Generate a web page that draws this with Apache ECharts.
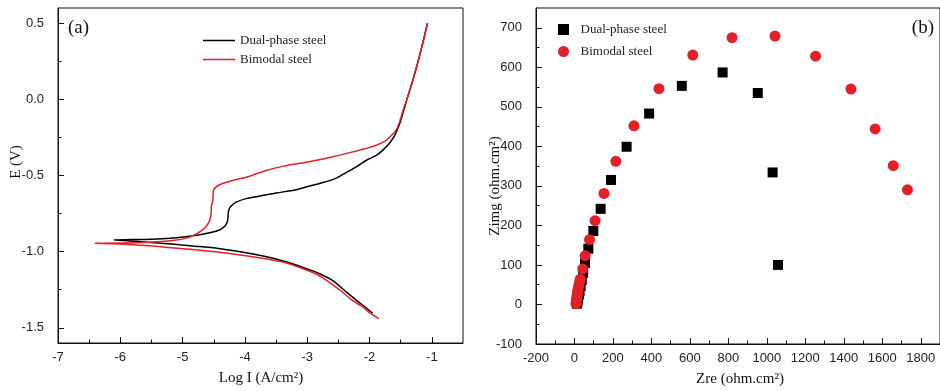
<!DOCTYPE html>
<html>
<head>
<meta charset="utf-8">
<script src="https://cdn.jsdelivr.net/npm/echarts@6/dist/echarts.min.js"></script>
<style>
  html, body { margin: 0; padding: 0; background: #fff; }
  #chart { width: 940px; height: 391px; }
</style>
</head>
<body>
<div id="chart"></div>
<script>
// ---- (a) Potentiodynamic polarization curves: [log I, E] ----
const dualPhasePolarization = [
  [-1.95,-1.405],[-2.05,-1.37],[-2.21,-1.32],[-2.40,-1.255],[-2.59,-1.19],[-2.80,-1.145],
  [-3.01,-1.112],[-3.25,-1.078],[-3.50,-1.048],[-3.75,-1.025],[-3.98,-1.007],[-4.25,-0.99],
  [-4.51,-0.975],[-4.80,-0.964],[-5.05,-0.955],[-5.30,-0.946],[-5.58,-0.938],[-5.85,-0.930],
  [-6.10,-0.923],
  [-5.80,-0.921],[-5.50,-0.918],[-5.20,-0.912],[-4.95,-0.902],[-4.75,-0.891],[-4.55,-0.875],
  [-4.41,-0.858],[-4.32,-0.832],[-4.28,-0.80],[-4.27,-0.765],[-4.26,-0.728],[-4.22,-0.700],
  [-4.14,-0.675],[-3.98,-0.652],[-3.75,-0.634],[-3.50,-0.615],[-3.20,-0.595],[-2.99,-0.572],
  [-2.80,-0.552],[-2.59,-0.527],[-2.37,-0.480],[-2.20,-0.440],[-2.05,-0.400],[-1.90,-0.370],
  [-1.79,-0.335],[-1.68,-0.288],[-1.60,-0.240],[-1.55,-0.195],[-1.50,-0.14],[-1.45,-0.07],
  [-1.40,0.0],[-1.31,0.12],[-1.22,0.25],[-1.14,0.38],[-1.07,0.50]
];
const bimodalPolarization = [
  [-1.85,-1.44],[-2.0,-1.40],[-2.12,-1.36],[-2.27,-1.322],[-2.45,-1.26],[-2.64,-1.203],
  [-2.82,-1.155],[-3.01,-1.121],[-3.20,-1.093],[-3.39,-1.068],[-3.80,-1.038],[-4.19,-1.015],
  [-4.60,-0.996],[-4.99,-0.981],[-5.40,-0.966],[-5.80,-0.955],[-6.10,-0.949],[-6.41,-0.945],
  [-6.00,-0.944],[-5.53,-0.938],[-5.16,-0.927],[-4.95,-0.913],[-4.83,-0.894],[-4.72,-0.868],
  [-4.63,-0.838],[-4.57,-0.800],[-4.55,-0.770],[-4.54,-0.735],[-4.54,-0.707],[-4.52,-0.670],
  [-4.51,-0.635],[-4.51,-0.605],[-4.47,-0.578],[-4.38,-0.556],[-4.19,-0.532],[-3.95,-0.508],
  [-3.66,-0.467],[-3.40,-0.440],[-3.12,-0.420],[-2.85,-0.400],[-2.59,-0.377],[-2.30,-0.348],
  [-2.05,-0.321],[-1.88,-0.300],[-1.75,-0.275],[-1.65,-0.237],[-1.57,-0.20],[-1.52,-0.15],
  [-1.46,-0.07],[-1.40,0.0],[-1.31,0.12],[-1.22,0.25],[-1.14,0.38],[-1.07,0.50]
];
const polXTicks = [-7, -6, -5, -4, -3, -2, -1];
const polXMinor = [-6.5, -5.5, -4.5, -3.5, -2.5, -1.5];
const polYTicks = [-1.5, -1.0, -0.5, 0.0, 0.5];
const polYMinor = [-1.25, -0.75, -0.25, 0.25];

// ---- (b) Nyquist plots: [Zre, Zimg] in ohm.cm² ----
const dualPhaseNyquist = [
  [12,2],[14,5],[16,10],[19,17],[23,25],[27,35],[32,47],[38,62],[45,80],[55,105],
  [72,141],[98,186],[136,242],[190,315],[271,399],[388,483],[558,553],[770,587],
  [953,535],[1030,334],[1058,100]
];
const bimodalNyquist = [
  [8,2],[9,5],[10,9],[11,13],[12,18],[14,24],[16,30],[18,37],[21,45],[25,54],[30,64],
  [43,90],[55,123],[78,164],[107,212],[153,281],[215,362],[309,452],[439,546],[615,631],
  [819,675],[1042,679],[1253,628],[1437,545],[1563,444],[1657,351],[1731,290]
];
const nyqXTicks = [-200, 0, 200, 400, 600, 800, 1000, 1200, 1400, 1600, 1800];
const nyqXMinor = [-100, 100, 300, 500, 700, 900, 1100, 1300, 1500, 1700];
const nyqYTicks = [-100, 0, 100, 200, 300, 400, 500, 600, 700];
const nyqYMinor = [-50, 50, 150, 250, 350, 450, 550, 650];

const RED = '#e41f26';
const INK = '#111';
const SANS = 'Liberation Sans, Arial, sans-serif';
const SERIF = 'Liberation Serif, Times New Roman, serif';
// legend keys: a plain stroke for the curves, a true square for the square markers
const LINE_KEY = 'path://M0,0H32V1.5H0Z';
const SQUARE_KEY = 'path://M0,0H10V10H0Z';

const legendLabels = {
  'dp-pol': 'Dual-phase steel', 'bm-pol': 'Bimodal steel',
  'dp-eis': 'Dual-phase steel', 'bm-eis': 'Bimodal steel'
};

function mainAxis(dim, gridIndex, min, max, ticks, fmt) {
  return {
    type: 'value', gridIndex, min, max,
    position: dim === 'x' ? 'bottom' : 'left',
    axisLine: { show: true, onZero: false, lineStyle: { color: INK, width: 1 } },
    axisTick: { show: true, inside: true, length: 6, customValues: ticks, lineStyle: { color: INK, width: 1 } },
    axisLabel: {
      customValues: ticks, color: '#222', fontFamily: SANS, fontSize: 13,
      margin: dim === 'x' ? 8 : 14, formatter: fmt
    },
    splitLine: { show: false }
  };
}
function minorAxis(dim, gridIndex, min, max, ticks) {
  return {
    type: 'value', gridIndex, min, max,
    position: dim === 'x' ? 'bottom' : 'left',
    axisLine: { show: false, onZero: false },
    axisTick: { show: true, inside: true, length: 3.5, customValues: ticks, lineStyle: { color: INK, width: 1 } },
    axisLabel: { show: false },
    splitLine: { show: false }
  };
}

const chart = echarts.init(document.getElementById('chart'), null, { renderer: 'canvas' });
chart.setOption({
  animation: false,
  backgroundColor: '#fff',
  grid: [
    { left: 58, right: 477, top: 8, bottom: 48, show: true, borderColor: INK, borderWidth: 1 },
    { left: 536, right: -3, top: 8, bottom: 47, show: true, borderColor: INK, borderWidth: 1 }
  ],
  xAxis: [
    mainAxis('x', 0, -7, -0.5, polXTicks, v => String(v)),
    minorAxis('x', 0, -7, -0.5, polXMinor),
    mainAxis('x', 1, -200, 1900, nyqXTicks, v => String(v)),
    minorAxis('x', 1, -200, 1900, nyqXMinor)
  ],
  yAxis: [
    mainAxis('y', 0, -1.6, 0.6, polYTicks, v => Number(v).toFixed(1)),
    minorAxis('y', 0, -1.6, 0.6, polYMinor),
    mainAxis('y', 1, -100, 750, nyqYTicks, v => String(v)),
    minorAxis('y', 1, -100, 750, nyqYMinor)
  ],
  legend: [
    {
      data: [{ name: 'dp-pol', icon: LINE_KEY }, { name: 'bm-pol', icon: LINE_KEY }],
      orient: 'vertical', left: 198, top: 29,
      itemWidth: 32, itemHeight: 14, itemGap: 6, selectedMode: false,
      formatter: n => legendLabels[n],
      textStyle: { fontFamily: SERIF, fontSize: 13, color: '#222' }
    },
    {
      data: [{ name: 'dp-eis', icon: SQUARE_KEY }, { name: 'bm-eis', icon: 'circle' }],
      orient: 'vertical', left: 553, top: 18,
      itemWidth: 24, itemHeight: 11, itemGap: 9, selectedMode: false,
      formatter: n => legendLabels[n],
      textStyle: { fontFamily: SERIF, fontSize: 13, color: '#222' }
    }
  ],
  series: [
    {
      name: 'dp-pol', type: 'line', xAxisIndex: 0, yAxisIndex: 0,
      data: dualPhasePolarization, symbol: 'none', smooth: 0.3,
      lineStyle: { color: '#000', width: 1.5 }, itemStyle: { color: '#000' }
    },
    {
      name: 'bm-pol', type: 'line', xAxisIndex: 0, yAxisIndex: 0,
      data: bimodalPolarization, symbol: 'none', smooth: 0.3,
      lineStyle: { color: RED, width: 1.5 }, itemStyle: { color: RED }
    },
    {
      name: 'dp-eis', type: 'scatter', xAxisIndex: 2, yAxisIndex: 2,
      data: dualPhaseNyquist, symbol: 'rect', symbolSize: 10,
      itemStyle: { color: '#000', opacity: 1 }
    },
    {
      name: 'bm-eis', type: 'scatter', xAxisIndex: 2, yAxisIndex: 2,
      data: bimodalNyquist, symbol: 'circle', symbolSize: 11,
      itemStyle: { color: RED, opacity: 1 }
    }
  ],
  graphic: [
    { type: 'text', x: 68, y: 28, style: { text: '(a)', font: '19px ' + SERIF, fill: '#111', textVerticalAlign: 'middle' } },
    { type: 'text', x: 934, y: 28, style: { text: '(b)', font: '19px ' + SERIF, fill: '#111', textAlign: 'right', textVerticalAlign: 'middle' } },
    { type: 'text', x: 16, y: 162, rotation: Math.PI / 2, style: { text: 'E (V)', font: '15px ' + SERIF, fill: '#111', textAlign: 'center', textVerticalAlign: 'middle' } },
    { type: 'text', x: 261, y: 378, style: { text: 'Log I (A/cm²)', font: '15px ' + SERIF, fill: '#111', textAlign: 'center', textVerticalAlign: 'middle' } },
    { type: 'text', x: 495, y: 186, rotation: Math.PI / 2, style: { text: 'Zimg (ohm.cm²)', font: '15px ' + SERIF, fill: '#111', textAlign: 'center', textVerticalAlign: 'middle' } },
    { type: 'text', x: 740, y: 379, style: { text: 'Zre (ohm.cm²)', font: '15px ' + SERIF, fill: '#111', textAlign: 'center', textVerticalAlign: 'middle' } }
  ]
});
</script>
</body>
</html>
